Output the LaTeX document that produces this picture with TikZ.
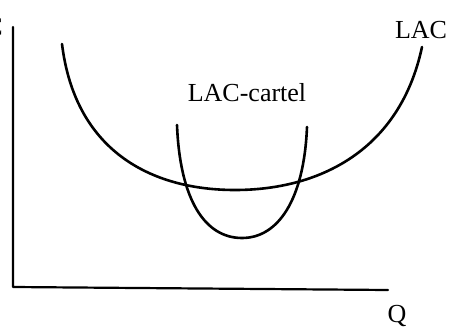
\documentclass[tikz,border=0pt]{standalone}
\usepackage{fontspec}
\setmainfont{Liberation Serif}
\begin{document}
\begin{tikzpicture}
% Cost curves of a cartel, drawn in pixel units
\def\pxsz{1pt}
\providecommand{\costLineWidth}{2.6pt}
\providecommand{\costAxisWidth}{2.2pt}
\providecommand{\costFontSize}{\fontsize{26}{30}\selectfont}
\begin{scope}[x=\pxsz, y=-\pxsz, line cap=round, line join=round]
  % Page frame
  \useasboundingbox (0,0) rectangle (451,327);
  % Axes
  \coordinate (ytop) at (13,27);
  \coordinate (origin) at (13,287);
  \coordinate (xend) at (388,290);
  \draw[line width=\costAxisWidth] (ytop) -- (origin) -- (xend);
  % Axis labels
  \node[anchor=east, inner sep=0pt, font=\costFontSize] (ylabel) at (3,27) {C};
  \node[inner sep=0pt, font=\costFontSize] (xlabel) at (397,316) {Q};
  % Long run average cost
  \draw[line width=\costLineWidth] (62,44) .. controls (75,150) and (150,190) .. (235,190)
    .. controls (320,190) and (400,150) .. (422,47);
  \node[inner sep=0pt, font=\costFontSize] (lac) at (421,30) {LAC};
  % Long run average cost of the cartel
  \draw[line width=\costLineWidth] (177,125) .. controls (180,200) and (205,238) .. (242,238)
    .. controls (278,238) and (304,200) .. (307,127);
  \node[inner sep=0pt, font=\costFontSize] (laccartel) at (247,93) {LAC-cartel};
\end{scope}
\end{tikzpicture}
\end{document}
